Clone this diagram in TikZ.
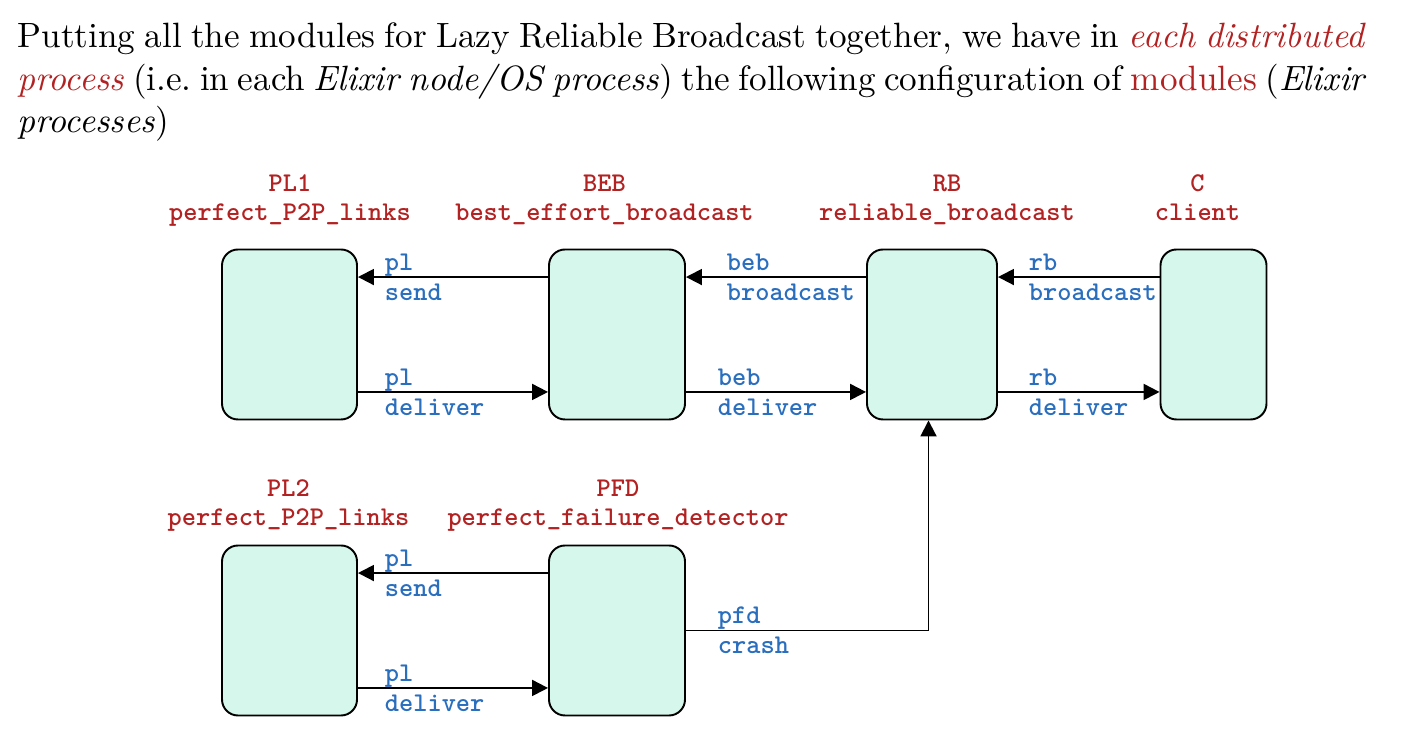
\documentclass[tikz,border=0pt]{standalone}
\usepackage{fontspec}
\usetikzlibrary{arrows.meta}
\definecolor{modred}{RGB}{178,34,34}
\definecolor{msgblue}{RGB}{42,110,190}
\definecolor{modfill}{RGB}{214,247,236}
\tikzset{
	module/.style={draw, fill=modfill, rounded corners=1.6mm, minimum height=1.7cm, inner sep=0pt, line width=0.55pt},
	title/.style={text=modred, font=\fontsize{7.7}{8.5}\selectfont\ttfamily\bfseries, align=center, anchor=base},
	msg/.style={text=msgblue, font=\fontsize{7.7}{8.5}\selectfont\ttfamily\bfseries, align=left, anchor=west, inner sep=0pt},
	flow/.style={-{Triangle[length=1.6mm,width=1.6mm]}, line width=0.55pt}
}
\begin{document}
\begin{tikzpicture}
	\useasboundingbox (0,0) rectangle (14.12,-7.40);
	\node[anchor=base west, inner sep=0pt, text width=13.47cm, align=justify] (intro) at (0.17,-0.48) {Putting all the modules for Lazy Reliable Broadcast together, we have in \textcolor{modred}{\textit{each distributed process}} (i.e.\ in each \textit{Elixir node/OS process}) the following configuration of \textcolor{modred}{modules} (\textit{Elixir processes})};
	\node[title] at (2.90,-2.21) (pl1t) {PL1\\perfect\_P2P\_links};
	\node[title] at (6.045,-2.21) (bebt) {BEB\\best\_effort\_broadcast};
	\node[title] at (9.47,-2.21) (rbt) {RB\\reliable\_broadcast};
	\node[title] at (11.975,-2.21) (ct) {C\\client};
	\node[title] at (2.885,-5.26) (pl2t) {PL2\\perfect\_P2P\_links};
	\node[title] at (6.18,-5.26) (pfdt) {PFD\\perfect\_failure\_detector};
	\node[module, minimum width=1.35cm] at (2.895,-3.345) (pl1) {};
	\node[module, minimum width=1.36cm] at (6.17,-3.345) (beb) {};
	\node[module, minimum width=1.30cm] at (9.32,-3.345) (rb) {};
	\node[module, minimum width=1.06cm] at (12.135,-3.345) (c) {};
	\node[module, minimum width=1.35cm] at (2.895,-6.305) (pl2) {};
	\node[module, minimum width=1.36cm] at (6.17,-6.305) (pfd) {};
	\draw[flow] ([yshift=-2.85mm]beb.north west) -- node[msg, pos=1, xshift=2.6mm] {pl\\send} ([yshift=-2.85mm]pl1.north east);
	\draw[flow] ([yshift=-2.85mm]rb.north west) -- node[msg, pos=1, xshift=4.0mm] {beb\\broadcast} ([yshift=-2.85mm]beb.north east);
	\draw[flow] ([yshift=-2.85mm]c.north west) -- node[msg, pos=1, xshift=3.0mm] {rb\\broadcast} ([yshift=-2.85mm]rb.north east);
	\draw[flow] ([yshift=2.85mm]pl1.south east) -- node[msg, pos=0, xshift=2.6mm] {pl\\deliver} ([yshift=2.85mm]beb.south west);
	\draw[flow] ([yshift=2.85mm]beb.south east) -- node[msg, pos=0, xshift=3.1mm] {beb\\deliver} ([yshift=2.85mm]rb.south west);
	\draw[flow] ([yshift=2.85mm]rb.south east) -- node[msg, pos=0, xshift=3.0mm] {rb\\deliver} ([yshift=2.85mm]c.south west);
	\draw[flow] ([yshift=-2.85mm]pfd.north west) -- node[msg, pos=1, xshift=2.6mm] {pl\\send} ([yshift=-2.85mm]pl2.north east);
	\draw[flow] ([yshift=2.85mm]pl2.south east) -- node[msg, pos=0, xshift=2.6mm] {pl\\deliver} ([yshift=2.85mm]pfd.south west);
	\draw[flow] (pfd.east) -- node[msg, pos=0, xshift=3.1mm] {pfd\\crash} ([xshift=-0.35mm]rb.south |- pfd.east) -- ([xshift=-0.35mm]rb.south);
\end{tikzpicture}
\end{document}
